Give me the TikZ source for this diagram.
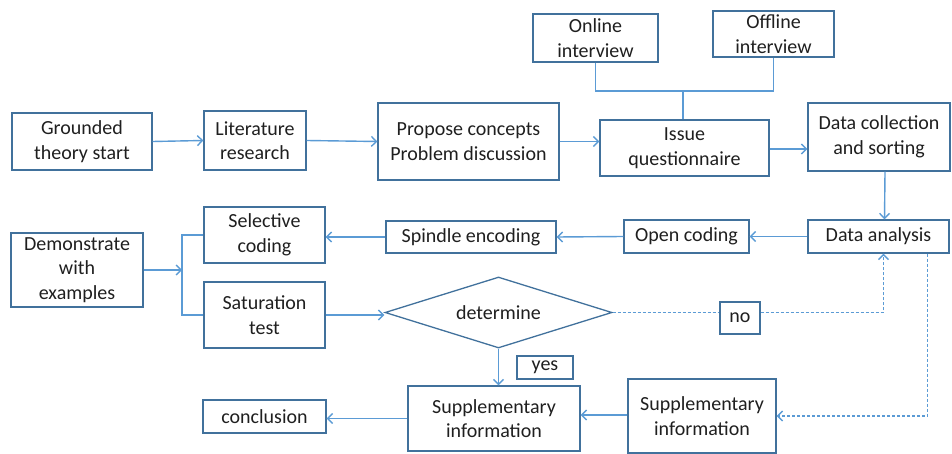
\documentclass[tikz,border=0pt]{standalone}
\usepackage{fontspec}
\setmainfont{Carlito}
\usetikzlibrary{shapes.geometric,arrows.meta}
\definecolor{boxc}{HTML}{41719C}
\definecolor{linec}{HTML}{5B9BD5}
\begin{document}
\begin{tikzpicture}[x=1pt,y=-1pt,
  box/.style={draw=boxc, line width=1.3pt, rectangle, align=center, inner sep=0pt,
    font=\fontsize{20}{24.5}\selectfont, text=black!88},
  conn/.style={draw=linec, line width=1.4pt},
  arr/.style={conn, -{Straight Barb[length=5pt,width=10pt,line width=1.4pt]}},
  dsh/.style={dash pattern=on 3pt off 2pt, line width=1.6pt}
]
\useasboundingbox (0,0) rectangle (952,454);
\node[box, minimum width=140, minimum height=57] (gts) at (82,141.5) {Grounded\\theory start};
\node[box, minimum width=102, minimum height=59] (lit) at (255,140.5) {Literature\\research};
\node[box, minimum width=181, minimum height=77] (prop) at (468.5,141.5) {Propose concepts\\Problem discussion};
\node[box, minimum width=169, minimum height=56] (issue) at (684.5,148) {Issue\\questionnaire};
\node[box, minimum width=125, minimum height=48] (online) at (595.5,38) {Online\\interview};
\node[box, minimum width=121, minimum height=46] (offline) at (773.5,34) {Offline\\interview};
\node[box, minimum width=142, minimum height=68] (dcs) at (879,137) {Data collection\\and sorting};
\node[box, minimum width=141, minimum height=33] (da) at (878.5,236.5) {Data analysis};
\node[box, minimum width=125, minimum height=33] (oc) at (686.5,236.5) {Open coding};
\node[box, minimum width=170, minimum height=32] (spin) at (471,237) {Spindle encoding};
\node[box, minimum width=121, minimum height=56] (sel) at (264.5,235) {Selective\\coding};
\node[box, minimum width=121, minimum height=66] (sat) at (264.5,315) {Saturation\\test};
\node[box, minimum width=132, minimum height=74] (demo) at (77,270) {Demonstrate\\with\\examples};
\node[box, shape=diamond, aspect=3.2, minimum width=227, minimum height=71] (det) at (498.5,312.5) {determine};
\node[box, minimum width=40, minimum height=32] (no) at (740,318) {no};
\node[box, minimum width=56, minimum height=23] (yes) at (545,367.5) {yes};
\node[box, minimum width=148, minimum height=74] (sup2) at (702,416) {Supplementary\\information};
\node[box, minimum width=172, minimum height=65] (sup1) at (494,418.5) {Supplementary\\information};
\node[box, minimum width=123, minimum height=33] (concl) at (264.5,416.5) {conclusion};
\coordinate (j) at (683,91);
\coordinate (br) at (182,270);
% connectors
\draw[arr] (gts.east) -- (lit.west);
\draw[arr] (lit.east) -- (prop.west);
\draw[arr] (prop.east) -- (prop.east -| issue.west);
\draw[arr] ([yshift=-1]issue.east) -- ([yshift=-1]issue.east -| dcs.west);
\draw[conn] (online.south) |- (j) -| (offline.south);
\draw[conn] (j) -- (j |- issue.north);
\draw[arr] ([xshift=6]dcs.south) -- ([xshift=6]da.north);
\draw[arr] (da.west) -- (oc.west -| oc.east);
\draw[arr] (oc.west) -- (spin.east);
\draw[arr] (spin.west) -- (spin.west -| sel.east);
\draw[conn] (sel.west) -| (br) |- (sat.west);
\draw[arr] (demo.east) -- (br);
\draw[arr] (sat.east) -- (sat.east -| det.west);
\draw[arr] (det.south) -- (det.south |- sup1.north);
\draw[conn, dsh] (det.east) -- (det.east -| no.west);
\draw[arr, dsh] (det.east -| no.east) -| ([xshift=5]da.south);
\draw[arr, dsh] ([xshift=49]da.south) |- (sup2.east);
\draw[arr] ([yshift=1]sup2.west) -- ([yshift=1]sup2.west -| sup1.east);
\draw[arr] (sup1.west) -- (sup1.west -| concl.east);
\end{tikzpicture}
\end{document}
